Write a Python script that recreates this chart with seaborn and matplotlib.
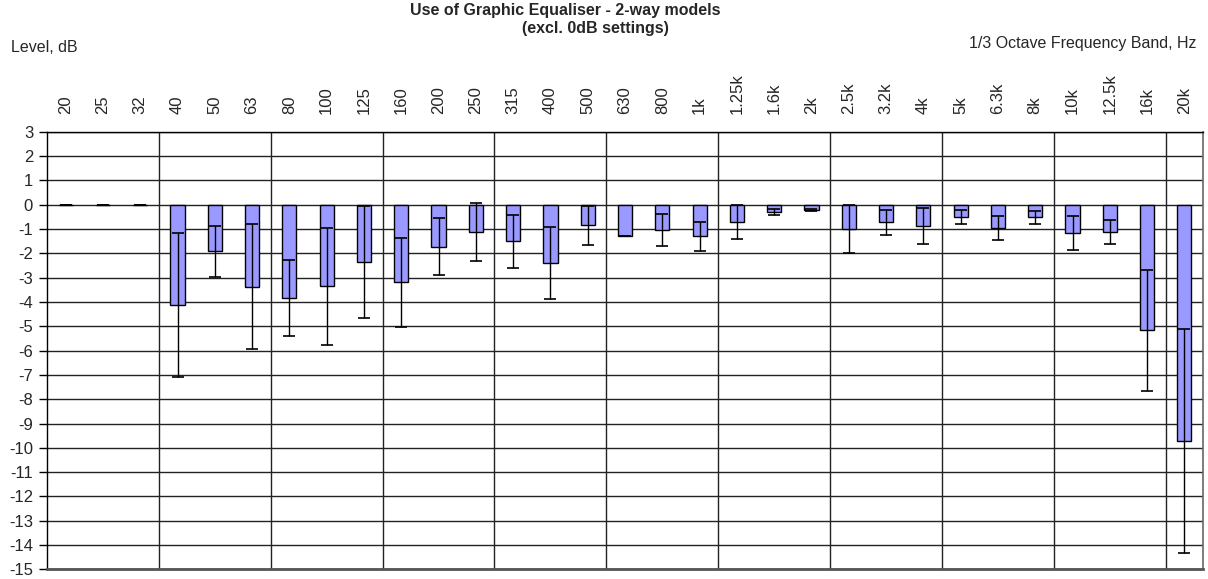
import numpy as np
import pandas as pd
import matplotlib
matplotlib.use("Agg")
import matplotlib.pyplot as plt
from matplotlib.ticker import FixedLocator, MultipleLocator
import seaborn as sns

# 1/3 octave bands and mean / standard deviation of the EQ setting (dB)
bands = ["20", "25", "32", "40", "50", "63", "80", "100", "125", "160",
         "200", "250", "315", "400", "500", "630", "800", "1k", "1.25k", "1.6k",
         "2k", "2.5k", "3.2k", "4k", "5k", "6.3k", "8k", "10k", "12.5k", "16k", "20k"]
mean_db = [0.0, 0.0, 0.0, -4.11, -1.92, -3.38, -3.82, -3.35, -2.35, -3.19,
           -1.73, -1.13, -1.51, -2.40, -0.85, -1.28, -1.05, -1.30, -0.70, -0.29,
           -0.22, -0.99, -0.73, -0.87, -0.50, -0.96, -0.52, -1.16, -1.13, -5.16, -9.71]
std_db = [0.0, 0.0, 0.0, 2.96, 1.04, 2.57, 1.56, 2.41, 2.30, 1.84,
          1.18, 1.18, 1.10, 1.47, 0.79, 0.0, 0.65, 0.60, 0.70, 0.12,
          0.05, 0.99, 0.50, 0.74, 0.30, 0.49, 0.28, 0.70, 0.49, 2.49, 4.60]

df = pd.DataFrame({"band": bands, "mean": mean_db, "std": std_db})

sns.set_style("white")
plt.rcParams["font.family"] = ["Liberation Sans", "DejaVu Sans"]
plt.rcParams["axes.unicode_minus"] = False

fig = plt.figure(figsize=(12.08, 5.79), dpi=100)
ax = fig.add_axes([0.0389, 0.0165, 0.9570, 0.7560])

sns.barplot(data=df, x="band", y="mean", order=bands, color="#9999FF",
            saturation=1, edgecolor="black", linewidth=1.0, width=0.38,
            errorbar=None, ax=ax, zorder=3)
xpos = np.arange(len(bands))
ax.errorbar(xpos, df["mean"], yerr=df["std"], fmt="none", ecolor="black",
            elinewidth=1.0, capsize=4, capthick=1.2, zorder=4)

ax.set_xlim(-0.5, len(bands) - 0.5)
ax.set_ylim(-15, 3)
ax.yaxis.set_major_locator(MultipleLocator(1))
ax.set_axisbelow(True)

# horizontal gridlines at every dB, vertical separators every third band
ax.grid(axis="y", which="major", color="#222222", linewidth=1.0, zorder=0)
ax.xaxis.set_minor_locator(FixedLocator(np.arange(2.5, len(bands) - 0.5, 3)))
ax.grid(axis="x", which="minor", color="#222222", linewidth=1.0, zorder=0)
ax.grid(axis="x", which="major", visible=False)

# band labels along the top
ax.xaxis.tick_top()
ax.set_xlabel("")
ax.set_ylabel("")
ax.tick_params(axis="x", which="both", length=0, pad=13, labelsize=12,
               labelrotation=90)
ax.tick_params(axis="y", which="major", direction="out", length=6, width=1,
               color="black", pad=4, labelsize=12, left=True)

for side in ["left", "top"]:
    ax.spines[side].set_color("black")
    ax.spines[side].set_linewidth(1.0)
ax.spines["right"].set_color("#666666")
ax.spines["right"].set_linewidth(1.2)
ax.spines["bottom"].set_color("#555555")
ax.spines["bottom"].set_linewidth(2.0)

fig.text(0.468, 0.982, "Use of Graphic Equaliser - 2-way models",
         ha="center", va="center", fontsize=11.5, fontweight="bold")
fig.text(0.493, 0.951, "(excl. 0dB settings)",
         ha="center", va="center", fontsize=11.5, fontweight="bold")
fig.text(0.009, 0.918, "Level, dB", ha="left", va="center", fontsize=11.5)
fig.text(0.990, 0.925, "1/3 Octave Frequency Band, Hz", ha="right",
         va="center", fontsize=11.5)

fig.savefig("out.png", dpi=100)
